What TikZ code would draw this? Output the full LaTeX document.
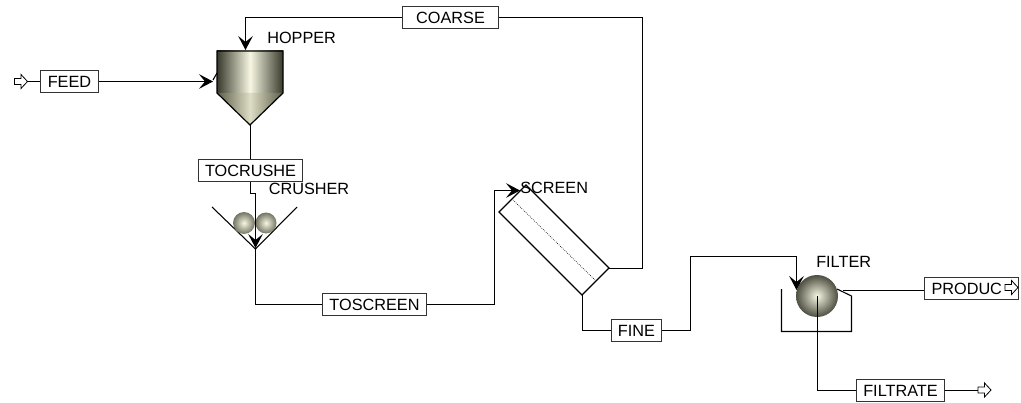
\documentclass[tikz,border=0pt]{standalone}
\usepackage{fontspec}
\setmainfont{Liberation Sans}
\usetikzlibrary{arrows.meta,positioning,calc}
\definecolor{steeldark}{HTML}{3A3A2C}
\definecolor{steellight}{HTML}{F6F6E2}
\definecolor{conedark}{HTML}{5C5C48}
\definecolor{conelight}{HTML}{DEDEC6}
\tikzset{
    stream/.style={line width=0.8pt, draw=black},
    feedin/.style={stream, -{Stealth[length=10.5pt, width=11pt, inset=4.5pt]}},
    tagbox/.style={draw=black!80, line width=0.8pt, fill=white, inner sep=0pt, minimum height=16.5pt, font=\fontsize{12.2}{14}\selectfont},
    tagname/.style={inner sep=0pt, font=\fontsize{12.2}{14}\selectfont},
    roller/.style={inner color=steellight, outer color=conedark!85},
    openarrow/.pic={\draw[line width=0.6pt, fill=white] (0,-3) -- (6.5,-3) -- (6.5,-7) -- (13,0) -- (6.5,7) -- (6.5,3) -- (0,3) -- cycle;}
}
\begin{document}
\begin{tikzpicture}[x=0.75pt, y=-0.75pt]
    \useasboundingbox (0,0) rectangle (1021,403);

    % Ports of the units
    \coordinate (hopperin) at (213,81.5);
    \coordinate (hoppertop) at (245.5,50);
    \coordinate (hopperout) at (250.5,125);
    \coordinate (crusherin) at (255.5,248);
    \coordinate (crusherout) at (255.5,249);
    \coordinate (screenin) at (520,190.5);
    \coordinate (screenover) at (609,268.5);
    \coordinate (screenunder) at (582.5,295);
    \coordinate (filterin) at (796.5,290);
    \coordinate (filtercake) at (843,290.5);
    \coordinate (filterout) at (817.5,296);
    \coordinate (feedend) at (27,81.5);
    \coordinate (filtrateend) at (978,390.5);

    % Hopper
    \shade[left color=steeldark, right color=steeldark, middle color=steellight] (217,51) rectangle (283,93);
    \shade[left color=conedark, right color=conedark, middle color=conelight] (217,93) -- (283,93) -- (250,125) -- cycle;
    \draw[line width=0.9pt] (217,93) -- (217,51) -- (283,51) -- (283,93) -- (250,125) -- cycle;
    \draw[stream] (213,80) -- (217,73);

    % Crusher
    \draw[stream] (212,207) -- (255.5,249) -- (297,207);
    \shade[roller] (244,223) circle (11);
    \shade[roller] (266,223) circle (10.5);

    % Screen
    \draw[line width=0.9pt, fill=white] (499,212) -- (526,185) -- (609,268) -- (582,295) -- cycle;
    \draw[densely dotted, line width=0.5pt] (513,200) -- (595,280);

    % Filter
    \draw[stream] (781.5,289) -- (781.5,331.5) -- (851.5,331.5) -- (851.5,296) -- (837,289);
    \shade[inner color=steellight, outer color=steeldark!90] (817,296) circle (21);

    % Stream tags
    \node[tagbox, minimum width=43.5pt] (feed) at (69.5,81.5) {FEED};
    \node[tagbox, minimum width=78pt] (tocrushe) at (250.5,170.5) {TOCRUSHE};
    \node[tagbox, minimum width=78pt] (toscreen) at (374.5,304.5) {TOSCREEN};
    \node[tagbox, minimum width=72pt] (coarse) at (450.5,17.5) {COARSE};
    \node[tagbox, minimum width=37.5pt] (fine) at (636.5,330.5) {FINE};
    \node[tagbox, minimum width=66pt] (filtrate) at (900.5,390.5) {FILTRATE};
    \node[tagbox, text width=60pt, inner xsep=5.25pt, align=left] (produc) at (971.5,288.5) {PRODUC};

    % Unit names
    \node[tagname, anchor=west] (hopper) at (267,38) {HOPPER};
    \node[tagname, anchor=west] (crusher) at (268.5,188.5) {CRUSHER};
    \node[tagname, anchor=west] (screen) at (520,188) {SCREEN};
    \node[tagname, anchor=west] (filter) at (816,262) {FILTER};

    % Streams
    \draw[stream] (feedend) -- (feed.west);
    \draw[feedin] (feed.east |- hopperin) -- (hopperin);
    \draw[stream] (hopperout) -- (tocrushe.north -| hopperout);
    \draw[feedin] (tocrushe.south -| hopperout) -- ++(0,11) -| (crusherin);
    \draw[stream] (crusherout) |- (toscreen.west);
    \draw[feedin] (toscreen.east) -- (494.5,304.5) |- (screenin);
    \draw[stream] (screenover) -| (642.5,17.5) -- (coarse.east);
    \draw[feedin] (coarse.west) -| (hoppertop);
    \draw[stream] (screenunder) |- (fine.west);
    \draw[feedin] (fine.east) -- (690.5,330.5) -- (690.5,256.5) -| (filterin);
    \draw[stream] (filtercake) -- (filtercake -| produc.west);
    \draw[stream] (filterout) |- (filtrate.west);
    \draw[stream] (filtrate.east) -- (filtrateend);

    % Open ended arrows
    \pic at (14.5,81.5) {openarrow};
    \pic at (978,390) {openarrow};
    \pic at (1005,287.5) {openarrow};
\end{tikzpicture}
\end{document}
